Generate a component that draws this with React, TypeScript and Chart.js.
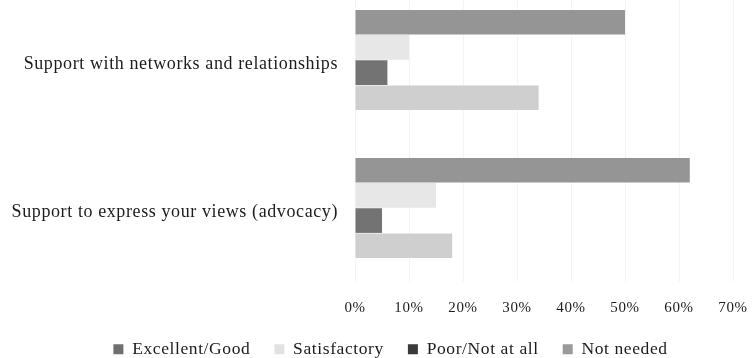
import React, { useEffect, useRef } from "react";
import { Chart, registerables } from "chart.js";

Chart.register(...registerables);

// Survey categories
const categories = [
  "Support with networks and relationships",
  "Support to express your views (advocacy)",
];

// Percentages per rating
const excellentGood = [50, 62];
const satisfactory = [10, 15];
const poorNotAtAll = [6, 5];
const notNeeded = [34, 18];

const seriesNames = ["Excellent/Good", "Satisfactory", "Poor/Not at all", "Not needed"];
const seriesColors = ["#959595", "#e7e7e7", "#737373", "#cfcfcf"];
const legendSwatches = ["#6f6f6f", "#e2e2e2", "#3a3a3a", "#9a9a9a"];

const xTicks = [0, 10, 20, 30, 40, 50, 60, 70];

const FONT = "'Liberation Serif', 'Times New Roman', serif";
const TEXT = "#1c1c1c";

// Horizontal nudge of the legend row so it sits under the plot
const LEGEND_SHIFT = 24;

// Slightly open letter spacing for all chart text
const letterSpacingPlugin = {
  id: "letterSpacing",
  beforeUpdate(chart: any) {
    chart.ctx.letterSpacing = "0.6px";
  },
  beforeDraw(chart: any) {
    chart.ctx.letterSpacing = "0.6px";
  },
};

const legendShiftPlugin = {
  id: "legendShift",
  afterLayout(chart: any) {
    const lg = chart.legend;
    if (lg) {
      lg.left += LEGEND_SHIFT;
      lg.right += LEGEND_SHIFT;
    }
  },
};

export default function App() {
  const canvasRef = useRef<HTMLCanvasElement | null>(null);

  useEffect(() => {
    if (!canvasRef.current) return;
    const seriesValues = [excellentGood, satisfactory, poorNotAtAll, notNeeded];
    const chart = new Chart(canvasRef.current, {
      type: "bar",
      data: {
        labels: categories,
        datasets: seriesNames.map((name, i) => ({
          label: name,
          data: seriesValues[i],
          backgroundColor: seriesColors[i],
          borderWidth: 0,
          categoryPercentage: 0.68,
          barPercentage: 0.98,
        })),
      },
      plugins: [letterSpacingPlugin, legendShiftPlugin],
      options: {
        indexAxis: "y",
        animation: false,
        responsive: false,
        maintainAspectRatio: false,
        layout: { padding: { top: 0, right: 22, bottom: 4, left: 0 } },
        plugins: {
          tooltip: { enabled: false },
          legend: {
            position: "bottom",
            labels: {
              boxWidth: 10,
              boxHeight: 10,
              padding: 24,
              color: TEXT,
              font: { family: FONT, size: 17.5 },
              generateLabels: (c: any) =>
                c.data.datasets.map((ds: any, i: number) => ({
                  text: ds.label,
                  fillStyle: legendSwatches[i],
                  strokeStyle: legendSwatches[i],
                  lineWidth: 0,
                  hidden: false,
                  datasetIndex: i,
                  fontColor: TEXT,
                })),
            },
          },
        },
        scales: {
          x: {
            min: 0,
            max: 70,
            border: { display: false },
            grid: { color: "#f4f4f4", drawTicks: false },
            afterBuildTicks: (axis: any) => {
              axis.ticks = xTicks.map((v) => ({ value: v }));
            },
            afterFit: (axis: any) => {
              axis.paddingLeft = 0;
              axis.paddingRight = 0;
              axis.height -= 17.5;
            },
            ticks: {
              padding: 17,
              color: TEXT,
              font: { family: FONT, size: 15 },
              callback: (v: any) => `${v}%`,
            },
          },
          y: {
            border: { display: false },
            grid: { display: false, drawTicks: false },
            afterFit: (axis: any) => {
              axis.paddingTop = 0;
              axis.paddingBottom = 0;
              axis.width = 355;
            },
            ticks: {
              padding: 17,
              labelOffset: 4,
              color: TEXT,
              font: { family: FONT, size: 18 },
            },
          },
        },
      },
    });
    return () => chart.destroy();
  }, []);

  return (
    <div style={{ position: "absolute", left: 0, top: -14, width: 755, height: 386 }}>
      <canvas ref={canvasRef} width={755} height={386} />
    </div>
  );
}
